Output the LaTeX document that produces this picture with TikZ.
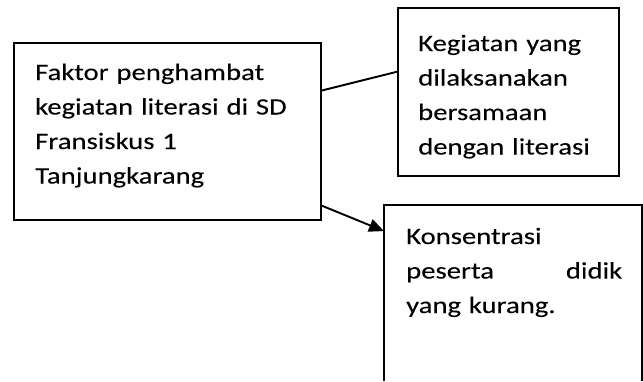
\documentclass[tikz,border=0pt]{standalone}
\usepackage{fontspec}
\setmainfont{Carlito}[FakeStretch=1.22,FakeBold=0.04]
\usetikzlibrary{arrows.meta,calc}
\begin{document}
\begin{tikzpicture}[x=1pt,y=-1pt,
  box/.style={draw,line width=1.9pt,inner sep=0pt,anchor=north west},
  openbox/.style={inner sep=0pt,anchor=north west},
  txt/.style={inner sep=0pt,anchor=base west,align=left,font=\fontsize{23.5pt}{34.5pt}\selectfont},
  conn/.style={line width=1.9pt},
  arr/.style={line width=1.9pt,-{Triangle[length=15pt,width=13pt]}}]
\useasboundingbox (0,0) rectangle (643,381);
\node[box,minimum width=307pt,minimum height=177pt] (a) at (13,42) {};
\node[box,minimum width=221pt,minimum height=168pt] (b) at (397,7) {};
\node[openbox,minimum width=258pt,minimum height=176pt] (c) at (384,205) {};
\draw[line width=1.9pt] (c.south west) -- (c.north west) -- (c.north east) -- (c.south east);
\node[txt,text width=280pt] (ta) at (35,80) {Faktor penghambat\\kegiatan literasi di SD\\Fransiskus 1\\Tanjungkarang};
\node[txt,text width=200pt] (tb) at (418,51) {Kegiatan yang\\dilaksanakan\\bersamaan\\dengan literasi};
\node[txt,text width=216pt] (tc) at (406,244) {Konsentrasi\\peserta\hfill didik\\yang kurang.};
\draw[conn] ($(a.north east)!0.271!(a.south east)$) -- ($(b.north west)!0.381!(b.south west)$);
\draw[arr] ($(a.north east)!0.915!(a.south east)$) -- ($(c.north west)!0.148!(c.south west)$);
\end{tikzpicture}
\end{document}
